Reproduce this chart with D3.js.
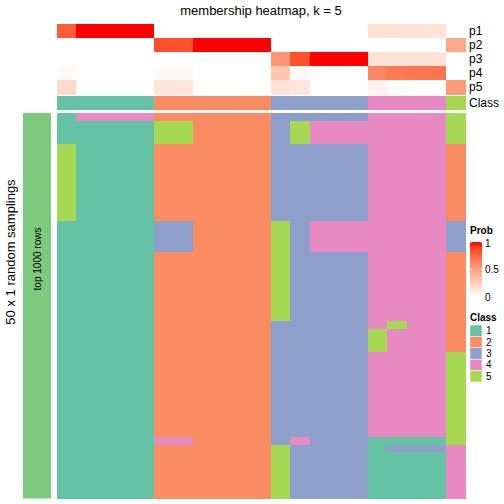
<!DOCTYPE html>
<html><head><meta charset="utf-8">
<script src="https://cdn.jsdelivr.net/npm/d3@7"></script>
<style>body{margin:0;background:#fff}svg{display:block;font-family:"Liberation Sans",Arial,sans-serif}</style>
</head><body><svg id="c" width="504" height="504"></svg>
<script>
// ---- data ----
const nCols = 21;
const colClass = [1,1,1,1,1,2,2,2,2,2,2,3,3,3,3,3,4,4,4,4,5];
const p1 = [0.8,1,1,1,1, 0,0,0,0,0,0, 0,0,0,0,0, 0.16,0.15,0.15,0.15, 0];
const p2 = [0,0,0,0,0, 0.85,0.85,1,1,1,1, 0,0,0,0,0, 0,0,0,0, 0.45];
const p3 = [0,0,0,0,0, 0,0,0,0,0,0, 0.55,0.85,1,1,1, 0.15,0.15,0.15,0.15, 0];
const p4 = [0.03,0,0,0,0, 0.03,0.03,0,0,0,0, 0.3,0.03,0,0,0, 0.62,0.68,0.7,0.7, 0];
const p5 = [0.2,0,0,0,0, 0.14,0.14,0,0,0,0, 0.15,0.13,0,0,0, 0.07,0.03,0,0, 0.52];
const probRows = ["p1","p2","p3","p4","p5"];
const probs = [p1,p2,p3,p4,p5];
// 50 random samplings x 21 samples (class labels)
const samplings = [
"144442222223333344445",
"111115522223544444445",
"111115522223544444445",
"111115522223544444445",
"511112222223333344442",
"511112222223333344442",
"511112222223333344442",
"511112222223333344442",
"511112222223333344442",
"511112222223333344442",
"511112222223333344442",
"511112222223333344442",
"511112222223333344442",
"511112222223333344442",
"111113322225344444443",
"111113322225344444443",
"111113322225344444443",
"111113322225344444443",
"111112222225333344442",
"111112222225333344442",
"111112222225333344442",
"111112222225333344442",
"111112222225333344442",
"111112222225333344442",
"111112222225333344442",
"111112222225333344442",
"111112222225333344442",
"111112222223333345442",
"111112222223333354442",
"111112222223333354442",
"111112222223333354442",
"111112222223333344445",
"111112222223333344445",
"111112222223333344445",
"111112222223333344445",
"111112222223333344445",
"111112222223333344445",
"111112222223333344445",
"111112222223333344445",
"111112222223333344445",
"111112222223333344445",
"111112222223333344445",
"111114422223433311115",
"111112222225333313334",
"111112222225333311114",
"111112222225333311114",
"111112222225333311114",
"111112222225333311114",
"111112222225333311114",
"111112222225333311114"
];
const classes = [1,2,3,4,5];
const classColors = ["#66C2A5","#FC8D62","#8DA0CB","#E78AC3","#A6D854"];
const probTicks = [0,0.5,1];

// ---- drawing ----
const svg = d3.select("#c");
const cols = d3.range(nCols);
const x = d3.scaleBand().domain(cols).range([57,465]);
const yP = d3.scaleBand().domain(probRows).range([24,94]);
const yC = [96,110];
const rows = d3.range(samplings.length);
const y = d3.scaleBand().domain(rows).range([113,498.5]);
const probColor = d3.scaleLinear().domain([0,1]).range(["#ffffff","#ff0000"]).interpolate(d3.interpolateLab);
const classColor = d3.scaleOrdinal().domain(classes).range(classColors);

svg.append("text").attr("x",261).attr("y",15).attr("text-anchor","middle")
  .attr("font-size",13).text("membership heatmap, k = 5");

// probability annotation rows
probRows.forEach((r,i)=>{
  svg.append("g").attr("shape-rendering","crispEdges").selectAll("rect").data(cols).join("rect")
    .attr("x",d=>x(d)).attr("y",yP(r)).attr("width",x.bandwidth()+0.5).attr("height",yP.bandwidth()+0.5)
    .attr("fill",d=>probColor(probs[i][d]));
  svg.append("text").attr("x",469).attr("y",yP(r)+yP.bandwidth()/2).attr("dy","0.35em")
    .attr("font-size",12).text(r);
});
// class annotation
svg.append("g").attr("shape-rendering","crispEdges").selectAll("rect").data(cols).join("rect")
  .attr("x",d=>x(d)).attr("y",yC[0]).attr("width",x.bandwidth()+0.5).attr("height",yC[1]-yC[0])
  .attr("fill",d=>classColor(colClass[d]));
svg.append("text").attr("x",469).attr("y",(yC[0]+yC[1])/2).attr("dy","0.35em").attr("font-size",12).text("Class");

// main heatmap
const cells = [];
samplings.forEach((s,ri)=>{ for(let c=0;c<nCols;c++) cells.push({r:ri,c:c,v:+s[c]}); });
svg.append("g").attr("shape-rendering","crispEdges").selectAll("rect").data(cells).join("rect")
  .attr("x",d=>x(d.c)).attr("y",d=>y(d.r)).attr("width",x.bandwidth()+0.5).attr("height",y.bandwidth()+0.5)
  .attr("fill",d=>classColor(d.v));

// left bar and titles
svg.append("rect").attr("x",23).attr("y",113).attr("width",28).attr("height",385.5).attr("fill","#7FC97F");
svg.append("text").attr("transform","translate(37,259) rotate(-90)").attr("text-anchor","middle")
  .attr("dy","0.35em").attr("font-size",10).text("top 1000 rows");
svg.append("text").attr("transform","translate(10,252) rotate(-90)").attr("text-anchor","middle")
  .attr("dy","0.35em").attr("font-size",13).text("50 x 1 random samplings");

// Prob legend
svg.append("text").attr("x",470).attr("y",234).attr("font-size",10).attr("font-weight","bold").text("Prob");
const grad = svg.append("defs").append("linearGradient").attr("id","pg").attr("x1",0).attr("y1",1).attr("x2",0).attr("y2",0);
d3.range(0,1.01,0.1).forEach(t=>grad.append("stop").attr("offset",t).attr("stop-color",probColor(t)));
const yL = d3.scaleLinear().domain([0,1]).range([297,242]);
svg.append("rect").attr("x",470).attr("y",242).attr("width",12).attr("height",55).attr("fill","url(#pg)");
probTicks.forEach(t=>{
  svg.append("line").attr("x1",470).attr("x2",472).attr("y1",yL(t)).attr("y2",yL(t)).attr("stroke","#fff").attr("stroke-width",0.8);
  svg.append("line").attr("x1",480).attr("x2",482).attr("y1",yL(t)).attr("y2",yL(t)).attr("stroke","#fff").attr("stroke-width",0.8);
  svg.append("text").attr("x",485).attr("y",yL(t)+(t===1?1.5:0)).attr("dy","0.35em").attr("font-size",10).text(t);
});

// Class legend
svg.append("text").attr("x",470).attr("y",321).attr("font-size",10).attr("font-weight","bold").text("Class");
const yK = d3.scaleBand().domain(classes).range([325,382]);
classes.forEach(k=>{
  svg.append("rect").attr("x",470).attr("y",yK(k)).attr("width",12).attr("height",yK.bandwidth())
    .attr("fill",classColor(k)).attr("stroke","#fff").attr("stroke-width",0.5);
  svg.append("text").attr("x",486).attr("y",yK(k)+yK.bandwidth()/2).attr("dy","0.35em").attr("font-size",10).text(k);
});
</script></body></html>
